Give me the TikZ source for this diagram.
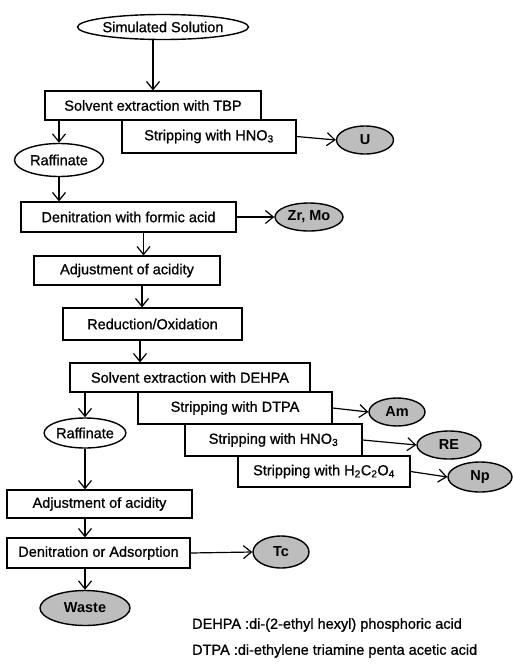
\documentclass[tikz,border=0pt]{standalone}
\usepackage{fontspec}
\setmainfont{Liberation Sans}
\newfontfamily\scanfont{Liberation Sans}[FakeBold=0.9]
\usetikzlibrary{shapes.geometric,arrows.meta,calc}
\begin{document}
\begin{tikzpicture}[x=1pt,y=-1pt,
  every node/.style={font=\scanfont\fontsize{14.5}{17}\selectfont, inner sep=0pt},
  stepbox/.style={draw, line width=1.2pt, rectangle, anchor=center},
  endell/.style={draw, line width=1.4pt, ellipse},
  outell/.style={draw, line width=1.4pt, ellipse, fill=black!26, font=\fontsize{14.5}{17}\selectfont\bfseries},
  arr/.style={line width=1.2pt, -{Straight Barb[length=8pt,width=13pt,line width=1.2pt]}},
  note/.style={anchor=west}
]
\useasboundingbox (0,0) rectangle (513,664);

\node[endell, minimum width=155pt, minimum height=25pt] (sim) at (163,27) {Simulated Solution};

\node[stepbox, minimum width=216pt, minimum height=29pt] (tbp) at (153,105.5) {Solvent extraction with TBP};
\node[stepbox, minimum width=174pt, minimum height=33pt] (str1) at (209,136.5) {Stripping with HNO\textsubscript{3}};
\node[outell, minimum width=57pt, minimum height=28pt] (u) at (365,140) {U};
\node[endell, minimum width=89pt, minimum height=33pt] (raf1) at (59,160) {Raffinate};

\node[stepbox, minimum width=215pt, minimum height=30pt] (den1) at (128.5,217) {Denitration with formic acid};
\node[outell, minimum width=68pt, minimum height=28pt] (zrmo) at (309,217) {Zr, Mo};
\node[stepbox, minimum width=186pt, minimum height=29pt] (adj1) at (127,270.5) {Adjustment of acidity};
\node[stepbox, minimum width=179pt, minimum height=32pt] (red) at (152.5,324) {Reduction/Oxidation};

\node[stepbox, minimum width=240pt, minimum height=29pt] (dehpa) at (190,377.5) {Solvent extraction with DEHPA};
\node[stepbox, minimum width=194pt, minimum height=32pt] (dtpa) at (235,408) {Stripping with DTPA};
\node[outell, minimum width=56pt, minimum height=28pt] (am) at (397,412) {Am};
\node[stepbox, minimum width=177pt, minimum height=32pt] (hno2) at (273.5,440) {Stripping with HNO\textsubscript{3}};
\node[outell, minimum width=64pt, minimum height=28pt] (re) at (449,445) {RE};
\node[stepbox, minimum width=172pt, minimum height=31pt] (h2c) at (324,471.5) {Stripping with H\textsubscript{2}C\textsubscript{2}O\textsubscript{4}};
\node[outell, minimum width=64pt, minimum height=30pt] (np) at (480,477) {Np};

\node[endell, minimum width=76pt, minimum height=30pt] (raf2) at (85,433) {Raffinate};
\node[stepbox, minimum width=185pt, minimum height=28pt] (adj2) at (99.5,504) {Adjustment of acidity};
\node[stepbox, minimum width=183pt, minimum height=30pt] (den2) at (98.5,553) {Denitration or Adsorption};
\node[outell, minimum width=56pt, minimum height=32pt] (tc) at (281,552) {Tc};
\node[outell, minimum width=90pt, minimum height=35pt] (waste) at (85,608) {Waste};

\node[note] (n1) at (192,625) {DEHPA :di-(2-ethyl hexyl) phosphoric acid};
\node[note] (n2) at (192,651) {DTPA :di-ethylene triamine penta acetic acid};

% connectors
\draw[arr] (sim.south -| tbp.north) -- (tbp.north);
\draw[arr] (tbp.south -| raf1.north) -- (raf1.north);
\draw[arr] (str1.east) -- (u.west);
\draw[arr] (raf1.south) -- (raf1.south |- den1.north);
\draw[arr] (den1.east) -- (zrmo.west);
\draw[arr] ([xshift=15pt]den1.south) -- ([xshift=15pt]den1.south |- adj1.north);
\draw[arr] ([xshift=15pt]adj1.south) -- ([xshift=15pt]adj1.south |- red.north);
\draw[arr] ([xshift=-12.5pt]red.south) -- ([xshift=-12.5pt]red.south |- dehpa.north);
\draw[arr] (dehpa.south -| raf2.north) -- (raf2.north);
\draw[arr] (dtpa.east) -- (am.west);
\draw[arr] (hno2.east) -- (re.west);
\draw[arr] (h2c.east) -- (np.west);
\draw[arr] (raf2.south) -- (raf2.south |- adj2.north);
\draw[arr] (adj2.south -| raf2.south) -- (raf2.south |- den2.north);
\draw[arr] (den2.east) -- (tc.west);
\draw[arr] (den2.south -| waste.north) -- (waste.north);
\end{tikzpicture}
\end{document}
